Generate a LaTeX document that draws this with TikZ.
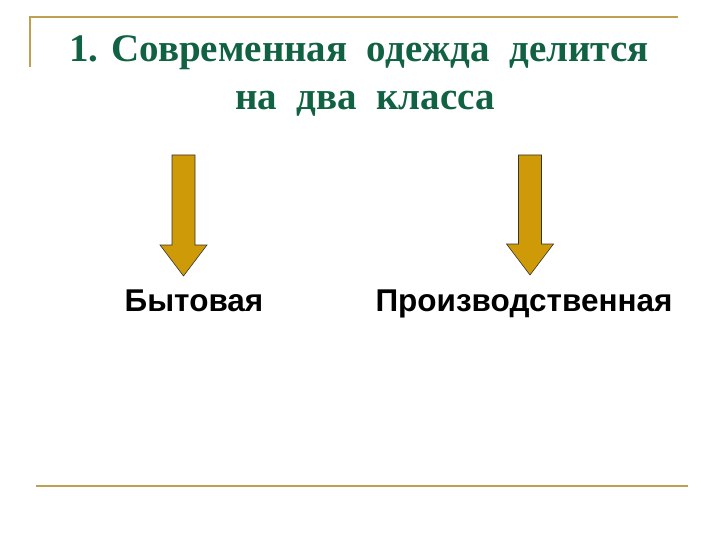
\documentclass[tikz,border=0pt]{standalone}
\usepackage{fontspec}
\setmainfont{Liberation Serif}
\setsansfont{Liberation Sans}
\usetikzlibrary{positioning}

\definecolor{titlegreen}{RGB}{16,98,66}
\definecolor{rulegold}{RGB}{190,160,80}
\definecolor{arrowgold}{RGB}{206,154,8}

% block arrow pointing down: {centre x}{shaft top}{head start}{tip}
\newcommand{\downblock}[4]{%
  \draw[blockarrow] (#1-11.5,#2) -- (#1+11.5,#2) -- (#1+11.5,#3) -- (#1+23.5,#3)
    -- (#1,#4) -- (#1-23.5,#3) -- (#1-11.5,#3) -- cycle;}

\begin{document}
\begin{tikzpicture}[
    x=1pt, y=-1pt,
    title/.style={anchor=base, inner sep=0pt, text=titlegreen,
      font=\fontsize{39}{46}\selectfont\bfseries},
    label/.style={anchor=base, inner sep=0pt,
      font=\fontsize{31.5}{36}\selectfont\sffamily\bfseries},
    rule/.style={rulegold, line width=1.6pt},
    blockarrow/.style={fill=arrowgold, draw=black!80, line width=0.6pt, line join=miter}]

    \useasboundingbox (0,0) rectangle (720,540);

    % frame lines
    \draw[rule] (30,67) -- (30,17) -- (678,17);
    \draw[rule] (36,486) -- (688,486);

    % title
    \node[title] (line1) at (359,62) {1. Современная\ \ одежда\ \ делится};
    \node[title] (line2) at (365,110) {на\ \ два\ \ класса};

    % arrows
    \downblock{183.5}{155}{245}{276}
    \downblock{530}{155}{244}{275}

    % classes
    \node[label] (home) at (194,311) {Бытовая};
    \node[label] (work) at (524,311) {Производственная};

\end{tikzpicture}
\end{document}
